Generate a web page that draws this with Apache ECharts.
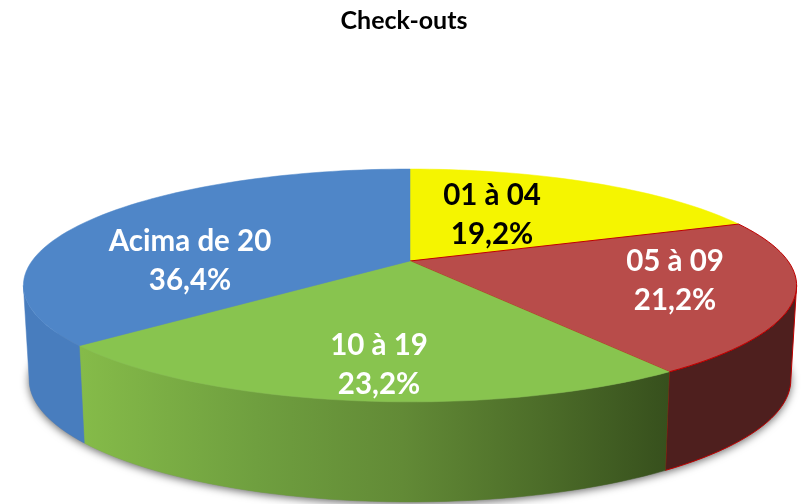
<!DOCTYPE html>
<html lang="pt">
<head>
  <meta charset="UTF-8">
  <title>Check-outs</title>
  <script src="https://cdn.jsdelivr.net/npm/echarts@6/dist/echarts.min.js"></script>
  <style>
    html, body, #main {
      margin: 0;
      padding: 0;
      width: 804px;
      height: 504px;
      background: #fff;
    }
  </style>
</head>
<body>
  <div id="main"></div>

  <script>
    const categories = ["01 à 04", "05 à 09", "10 à 19", "Acima de 20"];
    const percents = [19.2, 21.2, 23.2, 36.4];

    // look of each slice, same order as categories
    const topColors = ["#f5f500", "#b84c4a", "#88c44f", "#4f86c8"];
    const labelColors = ["#000", "#fff", "#fff", "#fff"];
    const labelCenters = [[492, 215], [675, 281], [379, 365], [190, 261]];

    // projection of the tilted disc: apex of the slices, radii and perspective
    const apex = [410, 261];
    const radiusX = 378, radiusY = 111.3, persp = 0.21;
    // bottom rim of the wall relative to the top rim
    const baseScaleX = 0.985, baseScaleY = 1.05, baseDrop = 93;

    // only the part of the rim between these two percentages faces the viewer
    const frontFrom = Math.acos(-persp) / (2 * Math.PI) * 100;
    const frontTo = 100 - frontFrom;

    const greenWall = new echarts.graphic.LinearGradient(81, 0, 667, 0, [
      { offset: 0, color: "#85bb49" },
      { offset: 0.3, color: "#6f9f3f" },
      { offset: 0.55, color: "#628a36" },
      { offset: 0.8, color: "#4b6b28" },
      { offset: 1, color: "#37501d" }
    ], true);
    const wallColors = ["#c9c900", "#4e1f1e", greenWall, "#487dbe"];

    let sum = 0;
    const sliceRows = percents.map((p, i) => {
      const row = [sum, sum + p, i];
      sum += p;
      return row;
    });

    function topPoint(pct) {
      const a = pct / 100 * Math.PI * 2;
      const u = Math.sin(a), v = Math.cos(a);
      const w = 1 + persp * v;
      return [apex[0] + radiusX * u / w, apex[1] - radiusY * v / w];
    }

    function basePoint(pct) {
      const p = topPoint(pct);
      return [
        apex[0] + (p[0] - apex[0]) * baseScaleX,
        apex[1] + (p[1] - apex[1]) * baseScaleY + baseDrop
      ];
    }

    function arc(from, to, fn) {
      const pts = [];
      const n = Math.ceil((to - from) * 2);
      for (let k = 0; k <= n; k++) pts.push(fn(from + (to - from) * k / n));
      return pts;
    }

    const chart = echarts.init(document.getElementById("main"), null, { renderer: "canvas" });
    chart.setOption({
      backgroundColor: "#fff",
      animation: false,
      tooltip: { show: false },
      title: {
        text: "Check-outs",
        left: 399,
        top: 3,
        textAlign: "center",
        textStyle: { fontFamily: "Lato", fontWeight: "bold", fontSize: 25, color: "#000" }
      },
      series: [
        {
          // soft shadow under the disc
          type: "custom",
          coordinateSystem: "none",
          silent: true,
          z: 1,
          data: [[0, 100]],
          renderItem: (params, api) => ({
            type: "polygon",
            shape: { points: arc(api.value(0), api.value(1), basePoint) },
            style: {
              fill: "#888",
              shadowBlur: 9,
              shadowColor: "rgba(0,0,0,0.6)",
              shadowOffsetX: 0,
              shadowOffsetY: 2
            }
          })
        },
        {
          type: "custom",
          coordinateSystem: "none",
          silent: true,
          z: 2,
          data: sliceRows,
          renderItem: (params, api) => {
            const i = api.value(2);
            const from = Math.max(api.value(0), frontFrom);
            const to = Math.min(api.value(1), frontTo);
            if (to <= from) return null;
            const top = arc(from, to, topPoint);
            const base = arc(from, to, basePoint).reverse();
            return {
              type: "polygon",
              shape: { points: top.concat(base) },
              style: {
                fill: wallColors[i],
                stroke: i === 1 ? "#c00000" : wallColors[i],
                lineWidth: i === 1 ? 1 : 0.5
              }
            };
          }
        },
        {
          type: "custom",
          coordinateSystem: "none",
          silent: true,
          z: 3,
          data: sliceRows,
          renderItem: (params, api) => {
            const i = api.value(2);
            const rim = arc(api.value(0), api.value(1), topPoint);
            return {
              type: "polygon",
              shape: { points: [apex].concat(rim) },
              style: {
                fill: topColors[i],
                stroke: i === 1 ? "#c00000" : topColors[i],
                lineWidth: i === 1 ? 1 : 0.5
              }
            };
          }
        },
        {
          type: "custom",
          coordinateSystem: "none",
          silent: true,
          z: 4,
          data: sliceRows,
          renderItem: (params, api) => {
            const i = api.value(2);
            return {
              type: "text",
              style: {
                x: labelCenters[i][0],
                y: labelCenters[i][1],
                text: categories[i] + "\n" + percents[i].toFixed(1).replace(".", ",") + "%",
                fill: labelColors[i],
                font: "bold 29.5px Lato",
                lineHeight: 39,
                align: "center",
                verticalAlign: "middle"
              }
            };
          }
        }
      ]
    });
  </script>
</body>
</html>
